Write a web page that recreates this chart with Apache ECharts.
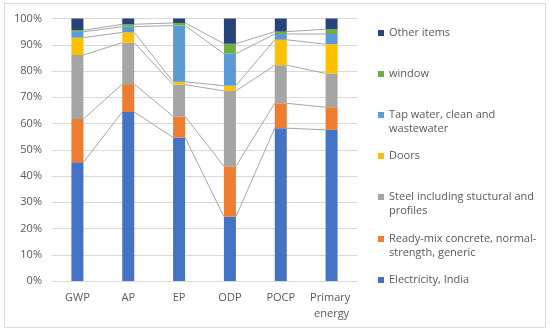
<!DOCTYPE html>
<html><head><meta charset="utf-8">
<script src="https://cdn.jsdelivr.net/npm/echarts@6/dist/echarts.min.js"></script>
<style>html,body{margin:0;padding:0;background:#fff}#c{width:550px;height:332px}</style>
</head><body><div id="c"></div>
<script>
const categories = ['GWP', 'AP', 'EP', 'ODP', 'POCP', 'Primary energy'];
const electricity = [45.2, 64.4, 54.7, 24.5, 58.2, 57.6];
const concrete    = [16.5, 10.6, 8.0, 19.2, 9.5, 8.6];
const steel       = [24.4, 15.8, 12.1, 28.7, 14.5, 12.9];
const doors       = [6.6, 3.9, 1.1, 2.0, 9.7, 11.1];
const tapWater    = [2.2, 2.2, 21.4, 12.2, 2.2, 3.9];
const windowVals  = [0.6, 0.9, 1.0, 3.8, 0.9, 1.8];
const otherItems  = [4.5, 2.2, 1.7, 9.6, 5.0, 4.1];
const yTicks = [0, 10, 20, 30, 40, 50, 60, 70, 80, 90, 100];

const seriesDefs = [
  {name: 'Electricity, India', data: electricity, color: '#4472C4', label: 'Electricity, India'},
  {name: 'Ready-mix concrete, normal-strength, generic', data: concrete, color: '#ED7D31', label: 'Ready-mix concrete, normal-\nstrength, generic'},
  {name: 'Steel including stuctural and profiles', data: steel, color: '#A5A5A5', label: 'Steel including stuctural and\nprofiles'},
  {name: 'Doors', data: doors, color: '#FFC000', label: 'Doors'},
  {name: 'Tap water, clean and wastewater', data: tapWater, color: '#5B9BD5', label: 'Tap water, clean and\nwastewater'},
  {name: 'window', data: windowVals, color: '#70AD47', label: 'window'},
  {name: 'Other items', data: otherItems, color: '#264478', label: 'Other items'}
];

const BAR_W = 12;
const chart = echarts.init(document.getElementById('c'), null, {renderer: 'canvas'});

// cumulative tops for series lines
const cum = categories.map(() => 0);
const lineData = [];
seriesDefs.forEach((s, si) => {
  const tops = s.data.map((v, i) => (cum[i] += v));
  if (si < seriesDefs.length - 1) {
    for (let i = 0; i < categories.length - 1; i++) {
      lineData.push([i, tops[i], tops[i + 1]]);
    }
  }
});

const series = seriesDefs.map(s => ({
  name: s.name, type: 'bar', stack: 'all', barWidth: BAR_W,
  data: s.data, itemStyle: {color: s.color}, emphasis: {disabled: true}, z: 3
}));
series.push({
  type: 'custom', name: 'serieslines', silent: true, z: 2,
  data: lineData,
  encode: {x: 0, y: 1},
  renderItem: function (params, api) {
    const i = api.value(0);
    const p1 = api.coord([i, api.value(1)]);
    const p2 = api.coord([i + 1, api.value(2)]);
    return {
      type: 'line',
      shape: {x1: p1[0] + BAR_W / 2, y1: p1[1], x2: p2[0] - BAR_W / 2, y2: p2[1]},
      style: {stroke: '#A6A6A6', lineWidth: 1}
    };
  }
});

// legends positioned like Excel (icon aligned with first text line)
const legendFirstLineY = [32, 73, 114, 155, 196, 238, 279];
const legendOrder = seriesDefs.slice().reverse();
const legends = legendOrder.map((s, k) => {
  const twoLine = s.label.indexOf('\n') >= 0;
  return {
    data: [s.name],
    left: 378,
    top: legendFirstLineY[k] - (twoLine ? 20 : 6),
    orient: 'vertical',
    icon: 'rect', itemWidth: 6, itemHeight: 6,
    selectedMode: false,
    padding: 0,
    formatter: () => (twoLine ? ' \n' : '') + s.label,
    textStyle: {
      color: '#595959', fontSize: 11, fontFamily: 'Open Sans', lineHeight: 14
    }
  };
});

chart.setOption({
  animation: false,
  graphic: [{
    type: 'rect', shape: {x: 4.5, y: 3.5, width: 541, height: 324},
    style: {fill: 'none', stroke: '#D9D9D9', lineWidth: 1}, z: -1, silent: true
  }],
  grid: {left: 52, right: 193, top: 18.5, bottom: 51, containLabel: false},
  legend: legends,
  xAxis: {
    type: 'category', data: categories,
    axisTick: {show: false},
    axisLine: {lineStyle: {color: '#D9D9D9'}},
    axisLabel: {color: '#595959', fontSize: 11, fontFamily: 'Open Sans', margin: 9,
      lineHeight: 16, interval: 0, width: 50, overflow: 'break'}
  },
  yAxis: {
    type: 'value', min: yTicks[0], max: yTicks[yTicks.length - 1], interval: 10,
    axisLine: {show: false}, axisTick: {show: false},
    splitLine: {lineStyle: {color: '#D9D9D9'}},
    axisLabel: {color: '#595959', fontSize: 11, fontFamily: 'Open Sans', margin: 10,
      formatter: v => v + '%'}
  },
  series: series
});
</script></body></html>
